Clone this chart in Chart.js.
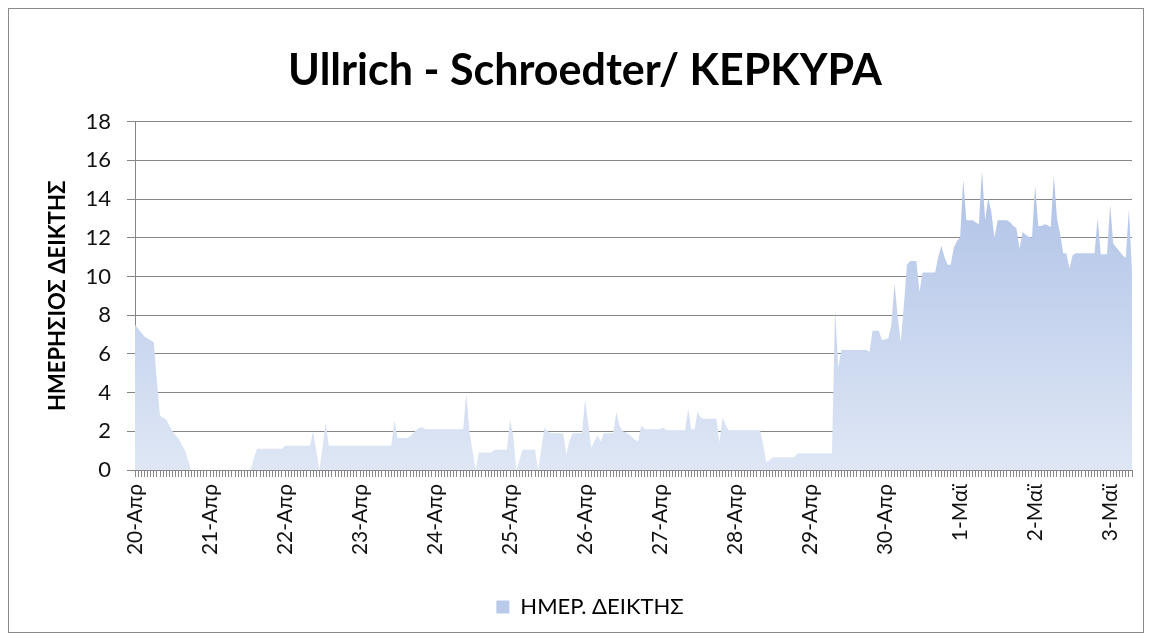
<!DOCTYPE html>
<html>
<head>
<meta charset="utf-8">
<script src="https://cdn.jsdelivr.net/npm/chart.js@4/dist/chart.umd.min.js"></script>
<style>
  html, body { margin: 0; padding: 0; background: #ffffff; }
  #wrap { position: relative; width: 1151px; height: 640px; }
  #frame { position: absolute; left: 8px; top: 8px; width: 1134px; height: 623px; border: 1px solid #8a8a8a; pointer-events: none; }
  canvas { position: absolute; left: 0; top: 0; }
</style>
</head>
<body>
<div id="wrap">
  <canvas id="c" width="1151" height="640"></canvas>
  <div id="frame"></div>
</div>
<script>
// ---- Data (hourly values) ----
const chartTitle = 'Ullrich - Schroedter/ ΚΕΡΚΥΡΑ';
const yAxisTitle = 'ΗΜΕΡΗΣΙΟΣ ΔΕΙΚΤΗΣ';
const seriesName = 'ΗΜΕΡ. ΔΕΙΚΤΗΣ';
const dayLabels = ['20-Απρ','21-Απρ','22-Απρ','23-Απρ','24-Απρ','25-Απρ','26-Απρ','27-Απρ','28-Απρ','29-Απρ','30-Απρ','1-Μαϊ','2-Μαϊ','3-Μαϊ'];
const yTicks = [0, 2, 4, 6, 8, 10, 12, 14, 16, 18];

const apr20 = [7.5,7.3,7.1,6.9,6.8,6.7,6.6,4.6,2.8,2.7,2.6,2.3,2.0,1.8,1.6,1.3,1.0,0.5,0,0,0,0,0,0];
const apr21 = [0,0,0,0,0,0,0,0,0,0,0,0,0,0,0.6,1.1,1.1,1.1,1.1,1.1,1.1,1.1,1.1,1.1];
const apr22 = [1.25,1.25,1.25,1.25,1.25,1.25,1.25,1.25,1.25,2.0,1.0,0,1.2,2.45,1.25,1.25,1.25,1.25,1.25,1.25,1.25,1.25,1.25,1.25];
const apr23 = [1.25,1.25,1.25,1.25,1.25,1.25,1.25,1.25,1.25,1.25,1.25,2.55,1.65,1.65,1.65,1.65,1.75,1.9,2.05,2.2,2.2,2.1,2.1,2.1];
const apr24 = [2.1,2.1,2.1,2.1,2.1,2.1,2.1,2.1,2.1,2.1,3.95,2.0,1.0,0,0.9,0.9,0.9,0.9,0.9,1.05,1.05,1.05,1.05,1.05];
const apr25 = [2.6,1.8,0,0.5,1.05,1.05,1.05,1.05,1.05,0,1.1,2.2,2.0,1.9,1.9,1.9,1.9,1.9,0.8,1.5,1.9,1.9,1.9,1.9];
const apr26 = [3.6,2.4,1.15,1.5,1.8,1.47,1.9,1.9,1.9,1.9,3.0,2.3,2.0,1.95,1.85,1.7,1.55,1.5,2.3,2.1,2.1,2.1,2.1,2.1];
const apr27 = [2.1,2.2,2.05,2.05,2.05,2.05,2.05,2.05,2.05,3.15,2.1,2.1,3.0,2.7,2.65,2.65,2.65,2.65,2.65,1.45,2.7,2.3,2.05,2.05];
const apr28 = [2.05,2.05,2.05,2.05,2.05,2.05,2.05,2.05,2.05,1.3,0.4,0.5,0.66,0.66,0.66,0.66,0.66,0.66,0.66,0.66,0.86,0.86,0.86,0.86];
const apr29 = [0.86,0.86,0.86,0.86,0.86,0.86,0.86,0.86,8.3,5.3,6.2,6.2,6.2,6.2,6.2,6.2,6.2,6.2,6.2,6.1,7.2,7.2,7.2,6.7];
const apr30 = [6.75,6.8,7.5,9.65,8.0,6.6,8.5,10.6,10.8,10.8,10.8,9.2,10.2,10.2,10.2,10.2,10.2,11.0,11.6,11.0,10.6,10.6,11.5,11.85];
const may01 = [12.0,15.0,12.9,12.9,12.9,12.8,12.7,15.45,12.9,14.05,13.3,12.0,12.9,12.9,12.9,12.9,12.8,12.6,12.5,11.45,12.3,12.15,12.05,12.0];
const may02 = [14.7,12.6,12.6,12.7,12.65,12.55,15.2,13.0,12.2,11.2,11.2,10.4,11.1,11.2,11.2,11.2,11.2,11.2,11.2,11.2,13.0,11.15,11.15,11.15];
const may03 = [13.7,11.7,11.5,11.3,11.1,10.95,13.45,10.3];

const hourlyValues = [].concat(apr20, apr21, apr22, apr23, apr24, apr25, apr26, apr27, apr28, apr29, apr30, may01, may02, may03);
const categories = hourlyValues.map((_, i) => dayLabels[Math.floor(i / 24)] + ' ' + String(i % 24).padStart(2, '0') + ':00');

// ---- Styling ----
const FONT = 'Lato, "Noto Sans", "Open Sans", sans-serif';
const gridGrey = '#868686';

function areaGradient(context) {
  const chart = context.chart;
  const area = chart.chartArea;
  if (!area) return '#c5d3ee';
  const g = chart.ctx.createLinearGradient(0, area.top, 0, area.bottom);
  g.addColorStop(0, 'rgb(166,187,228)');
  g.addColorStop(1, 'rgb(223,231,245)');
  return g;
}

const legendShift = {
  id: 'legendShift',
  afterLayout(chart) {
    const l = chart.legend;
    if (l) { l.left += 5; l.right += 5; }
  }
};

new Chart(document.getElementById('c'), {
  type: 'line',
  data: {
    labels: categories,
    datasets: [{
      label: seriesName,
      data: hourlyValues,
      fill: 'origin',
      backgroundColor: areaGradient,
      borderWidth: 0,
      borderColor: 'rgba(0,0,0,0)',
      pointRadius: 0,
      pointHoverRadius: 0,
      tension: 0
    }]
  },
  options: {
    responsive: false,
    animation: false,
    devicePixelRatio: 1,
    layout: { padding: { left: 38, right: 19, top: 0, bottom: 12 } },
    plugins: {
      tooltip: { enabled: false },
      title: {
        display: true,
        text: chartTitle,
        color: '#000000',
        font: { family: FONT, size: 43, weight: 'bold' },
        padding: { top: 45, bottom: 25 }
      },
      legend: {
        display: true,
        position: 'bottom',
        labels: {
          color: '#222222',
          font: { family: FONT, size: 22 },
          boxWidth: 13,
          boxHeight: 13,
          padding: 9,
          generateLabels: (chart) => [{
            text: seriesName,
            fillStyle: '#b9c9ea',
            strokeStyle: '#b9c9ea',
            lineWidth: 0,
            hidden: false,
            datasetIndex: 0
          }]
        }
      }
    },
    scales: {
      x: {
        type: 'category',
        offset: false,
        grid: {
          display: true,
          drawOnChartArea: false,
          drawTicks: true,
          tickLength: 7,
          color: gridGrey,
          lineWidth: 1
        },
        border: { display: true, color: gridGrey, width: 1 },
        ticks: {
          autoSkip: false,
          maxRotation: 90,
          minRotation: 90,
          padding: 7,
          color: '#111111',
          font: { family: FONT, size: 21, lineHeight: 0.55 },
          callback: (value, index) => (index % 24 === 0 ? dayLabels[index / 24] : '')
        },
        afterFit: (s) => { s.height = 117; }
      },
      y: {
        min: 0,
        max: 18,
        grid: {
          color: gridGrey,
          lineWidth: 1,
          tickLength: 8,
          drawTicks: true
        },
        border: { display: true, color: gridGrey, width: 1 },
        ticks: {
          stepSize: 2,
          padding: 16,
          color: '#111111',
          font: { family: FONT, size: 22 },
          callback: (v) => (yTicks.includes(v) ? String(v) : '')
        },
        title: {
          display: true,
          text: yAxisTitle,
          color: '#000000',
          font: { family: FONT, size: 22, weight: 'bold' },
          padding: { top: 7, bottom: 0 }
        },
        afterFit: (s) => { s.width = 97; }
      }
    }
  },
  plugins: [legendShift]
});
</script>
</body>
</html>
